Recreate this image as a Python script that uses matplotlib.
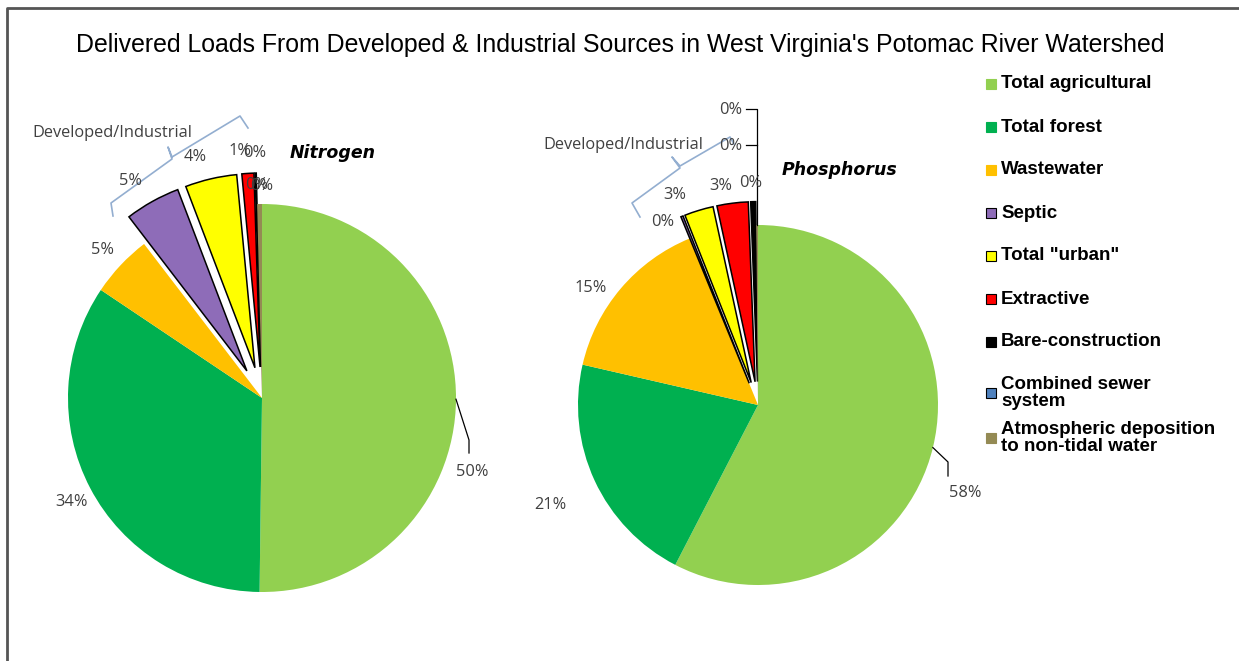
import numpy as np
import matplotlib
matplotlib.use("Agg")
import matplotlib.pyplot as plt
from matplotlib.patches import Rectangle

W, H = 1239, 661

# data (percent of delivered load)
categories = ["Total agricultural", "Total forest", "Wastewater", "Septic",
              'Total "urban"', "Extractive", "Bare-construction",
              "Combined sewer\nsystem", "Atmospheric deposition\nto non-tidal water"]
colors = ["#92D050", "#00B050", "#FFC000", "#8E6CB8", "#FFFF00",
          "#FF0000", "#000000", "#4F81BD", "#948A54"]
nitrogen = [50.2, 34.2, 5.2, 4.6, 4.3, 1.0, 0.1, 0.0, 0.4]
phosphorus = [57.6, 21.0, 15.2, 0.2, 2.6, 2.8, 0.45, 0.0, 0.15]

title = "Delivered Loads From Developed & Industrial Sources in West Virginia's Potomac River Watershed"

# layout, in pixels of the 1239x661 picture (y down)
N_CENTER, N_R, N_EXPL = (262, 398), 194, 0.16
P_CENTER, P_R, P_EXPL = (758, 405), 180, 0.13
N_EXPLODED = [3, 4, 5, 6]
P_EXPLODED = [3, 4, 5, 6]
N_LABELS = [(472, 472), (72, 502), (103, 250), (130, 181), (195, 157),
            (240, 151), (255, 153), (257, 185), (262, 186)]
P_LABELS = [(965, 493), (550, 505), (591, 288), (663, 222), (675, 195),
            (721, 186), (751, 183), (731, 110), (731, 146)]
LEG_Y = [84, 127, 170, 213, 256, 299, 342, 393, 438]
LEG_EDGE = [False, False, False, True, True, True, False, True, False]

LABEL_FONT = ["Open Sans", "DejaVu Sans"]
LABEL_SIZE = 11.8
GRAY = "#404040"
BRACKET = "#93AED0"


def Y(y):
    return H - y


fig = plt.figure(figsize=(W / 100, H / 100), dpi=100)
ax = fig.add_axes([0, 0, 1, 1])


def draw_pie(vals, center, r, expl, exploded):
    explode = [expl * r if i in exploded else 0 for i in range(len(vals))]
    wedges, _ = ax.pie(vals, colors=colors, startangle=90, counterclock=False,
                       center=(center[0], Y(center[1])), radius=r,
                       explode=explode, normalize=True)
    for i, w in enumerate(wedges):
        if explode[i]:
            w.set_edgecolor("black")
            w.set_linewidth(1.1)
        else:
            w.set_edgecolor("none")
    return wedges


def draw_labels(vals, pos):
    for v, (x, y) in zip(vals, pos):
        ax.text(x, Y(y), f"{v:.0f}%", ha="center", va="center",
                fontsize=LABEL_SIZE, color=GRAY, family=LABEL_FONT)


def leader(wedge, bend, end):
    th = np.deg2rad((wedge.theta1 + wedge.theta2) / 2)
    cx, cy = wedge.center
    x0, y0 = cx + wedge.r * np.cos(th), cy + wedge.r * np.sin(th)
    ax.plot([x0, bend[0], end[0]], [y0, Y(bend[1]), Y(end[1])],
            color="black", lw=0.9)


nw = draw_pie(nitrogen, N_CENTER, N_R, N_EXPL, N_EXPLODED)
pw = draw_pie(phosphorus, P_CENTER, P_R, P_EXPL, P_EXPLODED)
draw_labels(nitrogen, N_LABELS)
draw_labels(phosphorus, P_LABELS)
leader(nw[0], (469, 440), (469, 453))
leader(pw[0], (948, 462), (948, 476))

# leaders for the two 0% labels above the phosphorus pie
ax.plot([746, 757, 757], [Y(109), Y(109), Y(225)], color="black", lw=0.9)
ax.plot([746, 757], [Y(145), Y(145)], color="black", lw=0.9)

# Developed/Industrial brackets
n_br = [(113, 216), (111, 203), (172, 159), (168, 147), (172, 157), (240, 116), (248, 128)]
p_br = [(640, 217), (632, 203), (680, 168), (672, 157), (680, 166), (730, 137), (734, 144)]
for br in (n_br, p_br):
    ax.plot([p[0] for p in br], [Y(p[1]) for p in br], color=BRACKET, lw=1.2)
ax.text(112, Y(133), "Developed/Industrial", ha="center", va="center",
        fontsize=LABEL_SIZE, color=GRAY, family=LABEL_FONT)
ax.text(623, Y(145), "Developed/Industrial", ha="center", va="center",
        fontsize=LABEL_SIZE, color=GRAY, family=LABEL_FONT)

ax.text(290, Y(153), "Nitrogen", ha="left", va="center", fontsize=12.5,
        fontweight="bold", fontstyle="italic", family="DejaVu Sans")
ax.text(782, Y(170), "Phosphorus", ha="left", va="center", fontsize=12.5,
        fontweight="bold", fontstyle="italic", family="DejaVu Sans")

ax.text(620, Y(45), title, ha="center", va="center", fontsize=17.9,
        family="Liberation Sans", color="black")

# legend
for lab, col, edge, y in zip(categories, colors, LEG_EDGE, LEG_Y):
    ax.add_patch(Rectangle((986, Y(y) - 5), 10, 10, facecolor=col,
                           edgecolor="black" if edge else col, lw=0.8))
    ax.text(1001, Y(y), lab, ha="left", va="center", fontsize=13.5,
            fontweight="bold", family="Liberation Sans", linespacing=0.95)

# outer frame (open at right and bottom)
ax.plot([7, 7, W], [0, Y(8), Y(8)], color="#555555", lw=2)

ax.set_xlim(0, W)
ax.set_ylim(0, H)
ax.set_aspect("equal")
ax.axis("off")

fig.savefig("out.png", dpi=100)
